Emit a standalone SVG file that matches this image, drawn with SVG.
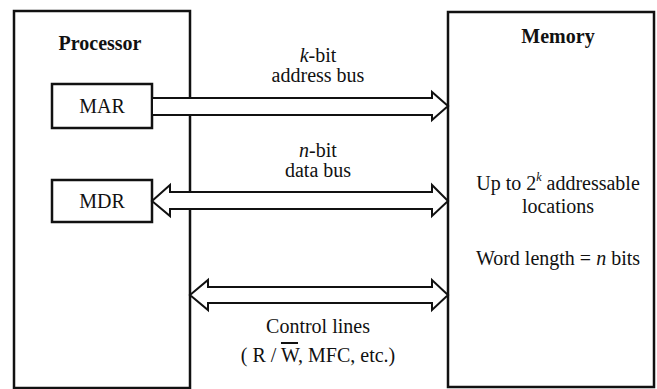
<svg xmlns="http://www.w3.org/2000/svg" width="657" height="389" viewBox="0 0 657 389">
<style>
.box{fill:#fff;stroke:#111;stroke-width:2.5}
.reg{fill:#fff;stroke:#111;stroke-width:2.5}
.bus{fill:#fff;stroke:#111;stroke-width:2;stroke-linejoin:miter}
text{font-family:"Liberation Serif","Times New Roman",serif;fill:#111;font-size:20px}
.b{font-weight:bold}
.c{text-anchor:middle}
</style>
<g id="processor">
<rect class="box" x="14" y="11" width="176" height="377" fill="#f5f5f5"/>
<text class="b c" x="100" y="50" font-size="18">Processor</text>
</g>
<g id="memory">
<rect class="box" x="448" y="12" width="206" height="375"/>
<text class="b c" x="558" y="43" font-size="17">Memory</text>
<text class="c" x="558" y="190">Up to 2<tspan font-size="12" dy="-9" font-style="italic">k</tspan><tspan dy="9"> addressable</tspan></text>
<text class="c" x="558" y="213">locations</text>
<text class="c" x="558" y="265">Word length = <tspan font-style="italic">n</tspan> bits</text>
</g>
<g id="mar">
<rect class="reg" x="52" y="84" width="100" height="44"/>
<text class="c" x="102" y="113" font-size="21">MAR</text>
</g>
<g id="mdr">
<rect class="reg" x="52" y="180" width="100" height="42"/>
<text class="c" x="102" y="208" font-size="21">MDR</text>
</g>
<g id="connectors">
<polygon class="bus" points="152,98 432,98 432,92 448,106 432,120 432,115 152,115"/>
<polygon class="bus" points="152,201 170,185 170,192 432,192 432,185 448,201 432,216 432,209 170,209 170,216"/>
<polygon class="bus" points="190,295 208,280 208,287 432,287 432,280 448,295 432,310 432,303 208,303 208,310"/>
</g>
<g id="labels">
<text class="c" x="318" y="62"><tspan font-style="italic">k</tspan>-bit</text>
<text class="c" x="318" y="82">address bus</text>
<text class="c" x="318" y="157"><tspan font-style="italic">n</tspan>-bit</text>
<text class="c" x="318" y="177">data bus</text>
<text class="c" x="318" y="333">Control lines</text>
<text class="c" x="318" y="362">( R / <tspan style="text-decoration:overline">W</tspan>, MFC, etc.)</text>
</g>
</svg>
